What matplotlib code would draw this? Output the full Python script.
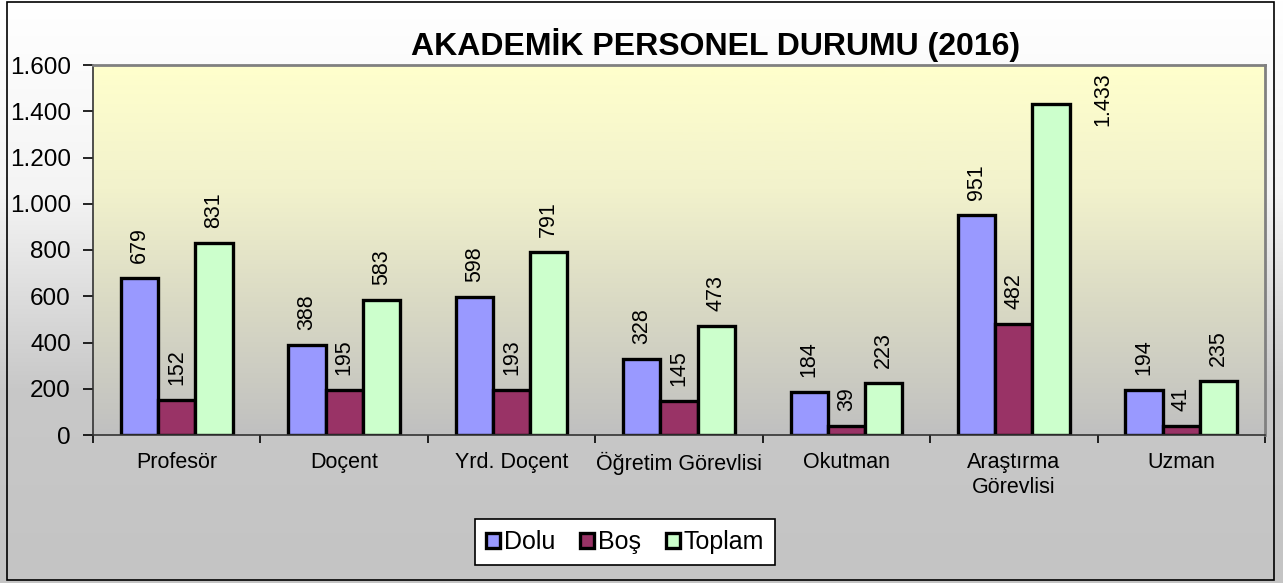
import numpy as np
import matplotlib
matplotlib.use("Agg")
import matplotlib.pyplot as plt
from matplotlib.patches import Rectangle, Patch
from matplotlib.colors import LinearSegmentedColormap

plt.rcParams['font.family'] = ['Liberation Sans', 'DejaVu Sans']

categories = ["Profesör", "Doçent", "Yrd. Doçent", "Öğretim Görevlisi", "Okutman",
              "Araştırma\nGörevlisi", "Uzman"]
dolu = [679, 388, 598, 328, 184, 951, 194]
bos = [152, 195, 193, 145, 39, 482, 41]
toplam = [831, 583, 791, 473, 223, 1433, 235]
series_names = ["Dolu", "Boş", "Toplam"]
colors = ["#9999ff", "#993366", "#ccffcc"]
yticks = [0, 200, 400, 600, 800, 1000, 1200, 1400, 1600]

def fmt(v):
    return f"{v:,}".replace(",", ".")

W, H = 1283, 583
fig = plt.figure(figsize=(W / 100, H / 100), dpi=100)

# figure background gradient
bg = fig.add_axes([0, 0, 1, 1], zorder=-10)
bg.set_axis_off()
grad = np.linspace(0, 1, 256).reshape(-1, 1)
cmap_bg = LinearSegmentedColormap.from_list("bg", ["#ffffff", "#f4f4f4", "#c8c8c8", "#c4c4c4"])
bg.imshow(grad, aspect="auto", cmap=cmap_bg, extent=[0, 1, 0, 1], origin="upper")
bg.set_xlim(0, 1); bg.set_ylim(0, 1)
bg.add_patch(Rectangle((7 / W, 1 - 580 / H), (1274 - 7) / W, (580 - 2) / H,
                       fill=False, edgecolor="black", lw=1.2, transform=bg.transAxes))

left, right, top, bottom = 93, 1265, 65, 435
ax = fig.add_axes([left / W, 1 - bottom / H, (right - left) / W, (bottom - top) / H])
ax.set_xlim(0, len(categories))
ax.set_ylim(0, 1600)

cmap_pa = LinearSegmentedColormap.from_list("pa", ["#ffffcc", "#f2f2cc", "#d8d8c4", "#c0c0c0"])
ax.imshow(grad, aspect="auto", cmap=cmap_pa, extent=[0, len(categories), 0, 1600],
          origin="upper", zorder=0)

n = len(categories)
bw = 1 / 4.5
x = np.arange(n) + 0.5
for i, (vals, c) in enumerate(zip([dolu, bos, toplam], colors)):
    xs = x + (i - 1) * bw
    ax.bar(xs, vals, width=bw, color=c, edgecolor="black", linewidth=2.4, zorder=2)
    for xi, v in zip(xs, vals):
        if v > 1400:
            ax.text(xi + 0.31, 1570, fmt(v), rotation=90, ha="center", va="top",
                    fontsize=15.5, zorder=3)
        else:
            ax.annotate(fmt(v), (xi, v), xytext=(0, 15), textcoords="offset pixels",
                        rotation=90, ha="center", va="bottom", fontsize=15.5, zorder=3)

ax.set_yticks(yticks)
ax.set_yticklabels([fmt(v) for v in yticks], fontsize=17.5)
ax.tick_params(axis="y", direction="out", length=7, width=1.2, pad=9)
ax.set_xticks(x)
ax.set_xticklabels(categories, fontsize=15.5, linespacing=1.3)
ax.set_xticks(np.arange(n + 1), minor=True)
ax.tick_params(axis="x", which="major", length=0, pad=12)
ax.tick_params(axis="x", which="minor", direction="out", length=6, width=1.2)

for s in ["left", "bottom"]:
    ax.spines[s].set_color("#333333")
    ax.spines[s].set_linewidth(1.2)
for s in ["top", "right"]:
    ax.spines[s].set_color("#808080")
    ax.spines[s].set_linewidth(2)

fig.text(716 / W, 1 - 45 / H, "AKADEMİK PERSONEL DURUMU (2016)", ha="center", va="center",
         fontsize=23, fontweight="bold")

handles = [Patch(facecolor=c, edgecolor="black", linewidth=2.4) for c in colors]
leg = fig.legend(handles, series_names, loc="center", bbox_to_anchor=(625 / W, 1 - 542 / H),
                 ncol=3, fontsize=18, frameon=True, fancybox=False, framealpha=1,
                 edgecolor="black", handlelength=0.55, handleheight=0.55, handletextpad=0.15,
                 columnspacing=1.0, borderpad=0.45)
leg.get_frame().set_linewidth(1.2)

fig.savefig("out.png", dpi=100)
